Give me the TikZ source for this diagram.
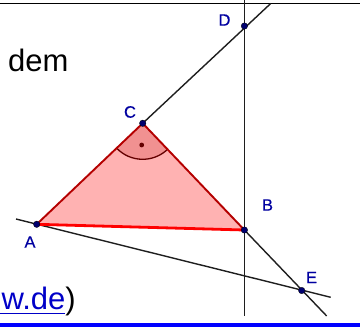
\documentclass[tikz,border=0pt]{standalone}
\usepackage{fontspec}
\setmainfont{Liberation Sans}
\newfontfamily\lblfont[FakeBold=0.6]{Liberation Sans}
\definecolor{ptblue}{RGB}{0,0,110}
\definecolor{lblblue}{RGB}{0,0,160}
\definecolor{trifill}{RGB}{255,178,178}
\definecolor{edgered}{RGB}{180,0,0}
\definecolor{basered}{RGB}{255,0,0}
\definecolor{arcred}{RGB}{100,0,0}
\definecolor{linegray}{RGB}{30,30,30}
\definecolor{linkblue}{RGB}{0,0,200}
\definecolor{barblue}{RGB}{0,0,255}
\begin{document}
\begin{tikzpicture}[x=1pt,y=-1pt,
  geoline/.style={draw=linegray,line width=1.4pt},
  ptdot/.style={circle,fill=ptblue,draw=black,line width=0.3pt,inner sep=0pt,minimum size=6.5pt},
  ptlabel/.style={text=lblblue,font=\lblfont\fontsize{16.5}{16.5}\selectfont,inner sep=0pt},
  bigtext/.style={font=\fontsize{31}{34}\selectfont,inner sep=0pt}]
\useasboundingbox (0,0) rectangle (360,327);
% coordinates
\coordinate (A) at (36.7,224.3);
\coordinate (B) at (244.4,230);
\coordinate (C) at (142.7,123.3);
\coordinate (D) at (244.4,26);
\coordinate (E) at (301.7,290.5);
\coordinate (TL) at (0,3.5);
\coordinate (TR) at (360,3.5);
\coordinate (Vtop) at (244.4,0);
\coordinate (Vbot) at (244.4,316);
\coordinate (CDend) at (270.7,3.5);
\coordinate (AEstart) at (16,219);
\coordinate (AEend) at (330.7,297.3);
\coordinate (BEend) at (326.7,316);
% top rule
\draw[black,line width=1.5pt] (TL) -- (TR);
% bottom bar
\fill[barblue] (0,323) rectangle (360,327);
% triangle
\fill[trifill] (A) -- (B) -- (C) -- cycle;
\fill[red!70!black,opacity=0.18] (C) -- ++(223.6:36pt) arc[start angle=223.6,end angle=313.6,radius=36pt] -- cycle;
\draw[arcred,line width=1.3pt] (C) ++(223.6:36pt) arc[start angle=223.6,end angle=313.6,radius=36pt];
\fill[arcred] (141.7,145) circle (2.4pt);
% lines
\draw[geoline] (C) -- (CDend);
\draw[geoline] (Vtop) -- (Vbot);
\draw[geoline] (AEstart) -- (AEend);
\draw[geoline] (B) -- (BEend);
% triangle edges
\draw[edgered,line width=1.9pt,line join=round] (A) -- (C) -- (B);
\draw[basered,line width=2.8pt] (A) -- (B);
% points
\node[ptdot] (pA) at (A) {};
\node[ptdot] (pB) at (B) {};
\node[ptdot] (pC) at (C) {};
\node[ptdot] (pD) at (D) {};
\node[ptdot] (pE) at (E) {};
% labels
\node[ptlabel] (lA) at (30,242) {A};
\node[ptlabel] (lB) at (267.5,205) {B};
\node[ptlabel] (lC) at (130,112) {C};
\node[ptlabel] (lD) at (224.5,20) {D};
\node[ptlabel] (lE) at (311.5,277.5) {E};
% texts
\node[bigtext,anchor=base west] (dem) at (8,71) {dem};
\node[bigtext,anchor=base east] (link) at (76,309) {\textcolor{linkblue}{w.de})};
\draw[linkblue,line width=1.6pt] (0,313.5) -- (65,313.5);
\end{tikzpicture}
\end{document}
